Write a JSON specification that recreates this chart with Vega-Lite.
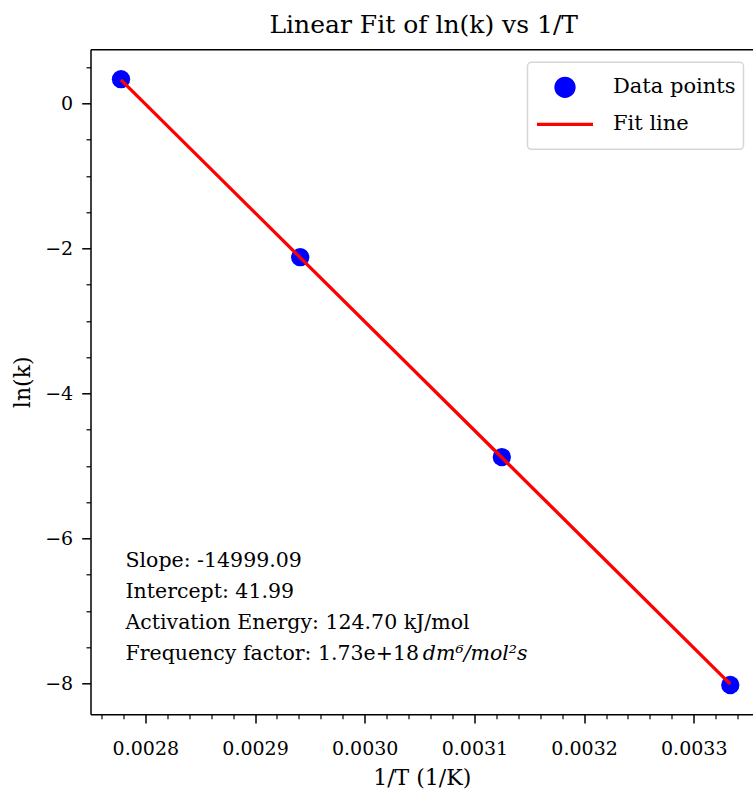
{
  "$schema": "https://vega.github.io/schema/vega-lite/v6.json",
  "width": 662.5,
  "height": 665,
  "autosize": {"type": "none"},
  "padding": {"left": 90.5, "top": 49.3, "right": 0, "bottom": 81.7},
  "title": {
    "text": "Linear Fit of ln(k) vs 1/T",
    "font": "DejaVu Serif",
    "fontSize": 25,
    "fontWeight": "normal",
    "color": "black",
    "anchor": "middle",
    "frame": "group",
    "baseline": "alphabetic",
    "offset": 16,
    "dx": 2,
    "dy": 25
  },
  "datasets": {
    "pts": [
      {"invT": 0.0027778, "lnk": 0.335, "fit": 0.326},
      {"invT": 0.0029412, "lnk": -2.12, "fit": -2.125},
      {"invT": 0.003125, "lnk": -4.876, "fit": -4.882},
      {"invT": 0.0033333, "lnk": -8.02, "fit": -8.007}
    ],
    "notes": [
      {"label": ["Slope: -14999.09", "Intercept: 41.99", "Activation Energy: 124.70 kJ/mol", "Frequency factor: 1.73e+18 "], "unit": "dm⁶/mol²s"}
    ]
  },
  "layer": [
    {
      "data": {"name": "pts"},
      "mark": {"type": "point", "filled": true, "opacity": 1, "size": 335, "strokeWidth": 0},
      "encoding": {
        "x": {
          "field": "invT", "type": "quantitative",
          "scale": {"domain": [0.00275, 0.003354], "nice": false, "zero": false},
          "axis": {
            "orient": "bottom",
            "values": [0.00276, 0.00278, 0.00282, 0.00284, 0.00286, 0.00288, 0.00292, 0.00294, 0.00296, 0.00298, 0.00302, 0.00304, 0.00306, 0.00308, 0.00312, 0.00314, 0.00316, 0.00318, 0.00322, 0.00324, 0.00326, 0.00328, 0.00332, 0.00334],
            "labels": false, "domain": false, "grid": false, "title": null,
            "tickSize": 4.5, "tickWidth": 1.2, "tickColor": "black"
          }
        },
        "y": {
          "field": "lnk", "type": "quantitative",
          "scale": {"domain": [-8.424, 0.747], "nice": false, "zero": false},
          "axis": {
            "orient": "left",
            "values": [-7.5, -7, -6.5, -5.5, -5, -4.5, -3.5, -3, -2.5, -1.5, -1, -0.5, 0.5],
            "labels": false, "domain": false, "grid": false, "title": null,
            "tickSize": 4.5, "tickWidth": 1.2, "tickColor": "black"
          }
        },
        "color": {
          "datum": "Data points",
          "scale": {"domain": ["Data points", "Fit line"], "range": ["#0000ff", "#ff0000"]},
          "legend": {
            "title": null,
            "orient": "none",
            "legendX": 437,
            "legendY": 13,
            "padding": 7.5,
            "fillColor": "white",
            "strokeColor": "#d6d6d6",
            "cornerRadius": 4,
            "labelFont": "DejaVu Serif",
            "labelFontSize": 21,
            "labelColor": "black",
            "labelOffset": 37,
            "symbolOffset": 19,
            "labelLimit": 400,
            "clipHeight": 35,
            "rowPadding": 2,
            "symbolSize": 3136,
            "symbolStrokeWidth": 3.3,
            "encoding": {
              "symbols": {
                "shape": {"value": {"expr": "datum.value === 'Fit line' ? 'stroke' : 'circle'"}},
                "size": {"value": {"expr": "datum.value === 'Fit line' ? 3136 : 324"}},
                "fill": {"value": {"expr": "datum.value === 'Fit line' ? 'transparent' : '#0000ff'"}},
                "stroke": {"value": {"expr": "datum.value === 'Fit line' ? '#ff0000' : 'transparent'"}},
                "strokeWidth": {"value": 3.3},
                "opacity": {"value": 1}
              },
              "legend": {"strokeWidth": {"value": 1.5}}
            }
          }
        }
      }
    },
    {
      "data": {"name": "pts"},
      "mark": {"type": "line", "strokeWidth": 3.3},
      "encoding": {
        "x": {
          "field": "invT", "type": "quantitative",
          "axis": {
            "orient": "bottom",
            "values": [0.0028, 0.0029, 0.003, 0.0031, 0.0032, 0.0033],
            "format": ".4f",
            "title": "1/T (1/K)",
            "grid": false,
            "domain": true, "domainColor": "black", "domainWidth": 1.5,
            "ticks": true, "tickColor": "black", "tickSize": 8.8, "tickWidth": 1.5,
            "labelFont": "DejaVu Serif", "labelFontSize": 19, "labelColor": "black",
            "labelPadding": 16, "labelFlush": false, "labelOverlap": false,
            "titleFont": "DejaVu Serif", "titleFontSize": 22, "titleFontWeight": "normal",
            "titleColor": "black", "titlePadding": 9
          }
        },
        "y": {
          "field": "fit", "type": "quantitative",
          "axis": {
            "orient": "left",
            "values": [-8, -6, -4, -2, 0],
            "format": "d",
            "title": "ln(k)",
            "grid": false,
            "domain": true, "domainColor": "black", "domainWidth": 1.5,
            "ticks": true, "tickColor": "black", "tickSize": 8.8, "tickWidth": 1.5,
            "labelFont": "DejaVu Serif", "labelFontSize": 19, "labelColor": "black",
            "labelPadding": 9, "labelFlush": false, "labelOverlap": false,
            "titleFont": "DejaVu Serif", "titleFontSize": 22, "titleFontWeight": "normal",
            "titleColor": "black", "titlePadding": 10
          }
        },
        "color": {"datum": "Fit line"}
      }
    },
    {
      "data": {"name": "notes"},
      "mark": {"type": "text", "align": "left", "baseline": "alphabetic", "font": "DejaVu Serif", "fontSize": 20.5, "lineHeight": 31, "color": "black"},
      "encoding": {
        "x": {
          "datum": 0.0027819, "type": "quantitative",
          "axis": {"orient": "top", "labels": false, "ticks": false, "grid": false, "title": null, "domain": true, "domainColor": "black", "domainWidth": 1.5, "minExtent": 0}
        },
        "y": {"datum": -6.399, "type": "quantitative", "axis": null},
        "text": {"field": "label"}
      }
    },
    {
      "data": {"name": "notes"},
      "mark": {"type": "text", "align": "left", "baseline": "alphabetic", "font": "DejaVu Serif", "fontSize": 20.5, "fontStyle": "italic", "color": "black"},
      "encoding": {
        "x": {"datum": 0.003053, "type": "quantitative", "axis": null},
        "y": {"datum": -7.681, "type": "quantitative", "axis": null},
        "text": {"field": "unit"}
      }
    }
  ],
  "resolve": {"axis": {"x": "independent", "y": "independent"}},
  "config": {
    "font": "DejaVu Serif",
    "view": {"stroke": null},
    "axis": {"grid": false}
  }
}
